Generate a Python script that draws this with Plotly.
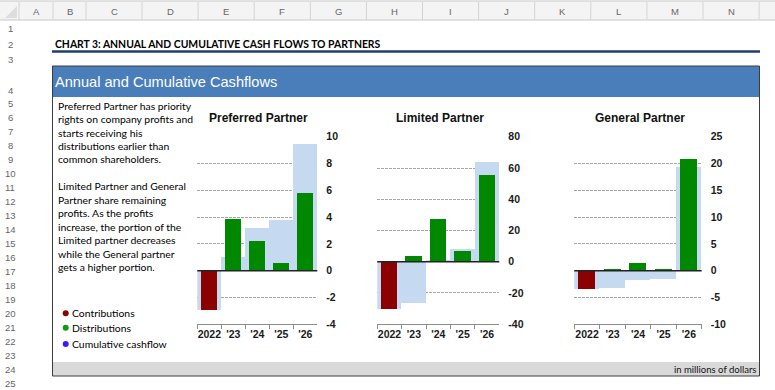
import plotly.graph_objects as go

W, H = 775, 390

# ---------------- data ----------------
years = ["2022", "'23", "'24", "'25", "'26"]

pref_contrib = [-2.9, None, None, None, None]
pref_distrib = [None, 3.9, 2.2, 0.6, 5.8]
pref_cumul = [-2.9, 1.0, 3.2, 3.8, 9.5]

lim_contrib = [-30.0, None, None, None, None]
lim_distrib = [None, 3.5, 27.8, 7.2, 55.6]
lim_cumul = [-30.0, -26.5, 1.3, 8.2, 63.8]

gen_contrib = [-3.4, None, None, None, None]
gen_distrib = [None, 0.2, 1.4, 0.3, 20.9]
gen_cumul = [-3.4, -3.2, -1.8, -1.5, 19.4]

chart_titles = ["Preferred Partner", "Limited Partner", "General Partner"]
pref_ticks = [-4, -2, 0, 2, 4, 6, 8, 10]
lim_ticks = [-40, -20, 0, 20, 40, 60, 80]
gen_ticks = [-10, -5, 0, 5, 10, 15, 20, 25]

legend_labels = ["Contributions", "Distributions", "Cumulative cashflow"]
legend_colors = ["#8b0000", "#119911", "#3a1cff"]

para1 = ["Preferred Partner has priority", "rights on company profits and",
         "starts receiving his", "distributions earlier than",
         "common shareholders."]
para2 = ["Limited Partner and General", "Partner share remaining",
         "profits. As the profits", "increase, the portion of the",
         "Limited partner decreases", "while the General partner",
         "gets a higher portion."]

col_letters = ["A", "B", "C", "D", "E", "F", "G", "H", "I", "J", "K", "L", "M", "N"]

# ---------------- helpers ----------------
def px(x):
    return x / W

def py(y):
    return 1 - y / H

RED = "#8b0000"
GREEN = "#008800"
LBLUE = "#c5d9f1"
CHART_FONT = "Liberation Sans"
TEXT_FONT = "Lato"

fig = go.Figure()

series = [
    (pref_contrib, pref_distrib, pref_cumul),
    (lim_contrib, lim_distrib, lim_cumul),
    (gen_contrib, gen_distrib, gen_cumul),
]
tick_sets = [pref_ticks, lim_ticks, gen_ticks]
x_domains = [(197.3, 317.3), (377.3, 499.3), (574.3, 701.7)]
y_dom = (py(324.2), py(136.8))

shapes = []
annotations = []

for i, (con, dis, cum) in enumerate(series):
    xa = "x" if i == 0 else f"x{i+1}"
    ya = "y" if i == 0 else f"y{i+1}"
    fig.add_trace(go.Bar(x=years, y=cum, width=1.0, marker=dict(color=LBLUE, line=dict(width=0)),
                         xaxis=xa, yaxis=ya, name="Cumulative cashflow", showlegend=False))
    fig.add_trace(go.Bar(x=years, y=con, width=0.67, marker=dict(color=RED, line=dict(width=0)),
                         xaxis=xa, yaxis=ya, name="Contributions", showlegend=False))
    fig.add_trace(go.Bar(x=years, y=dis, width=0.67, marker=dict(color=GREEN, line=dict(width=0)),
                         xaxis=xa, yaxis=ya, name="Distributions", showlegend=False))

    tv = tick_sets[i]
    xkey = "xaxis" if i == 0 else f"xaxis{i+1}"
    ykey = "yaxis" if i == 0 else f"yaxis{i+1}"
    fig.update_layout(**{
        xkey: dict(domain=[px(x_domains[i][0]), px(x_domains[i][1])], anchor=ya,
                   type="category", range=[-0.5, 4.5], showgrid=False, zeroline=False,
                   showline=True, linecolor="#8c8c8c", linewidth=1,
                   ticks="outside", tickson="boundaries", ticklen=4, tickcolor="#8c8c8c",
                   tickangle=0,
                   tickfont=dict(family=CHART_FONT, size=10.5, color="#1a1a1a", weight="bold"),
                   fixedrange=True),
        ykey: dict(domain=list(y_dom), anchor=xa, side="right", range=[tv[0], tv[-1]],
                   tickmode="array", tickvals=tv, ticktext=[str(v) for v in tv],
                   showgrid=True, gridcolor="#a6a6a6", griddash="3px,1px", gridwidth=1,
                   zeroline=False, showline=False, ticks="",
                   ticklabelstandoff=8,
                   tickfont=dict(family=CHART_FONT, size=10.5, color="#1a1a1a", weight="bold"),
                   fixedrange=True),
    })
    shapes.append(dict(type="line", xref=f"{xa} domain", yref=ya, x0=0, x1=1, y0=0, y1=0,
                       line=dict(color="#222222", width=1.5), layer="above"))
    cx = (x_domains[i][0] + x_domains[i][1]) / 2 + 1.5
    annotations.append(dict(text=chart_titles[i], x=px(cx), y=py(118), xref="paper", yref="paper",
                            xanchor="center", yanchor="middle", showarrow=False,
                            font=dict(family=CHART_FONT, size=12, color="#111111", weight="bold")))

# ---------------- spreadsheet frame ----------------
shapes.append(dict(type="rect", xref="paper", yref="paper", x0=0, x1=1, y0=py(20), y1=py(1),
                   fillcolor="#f4f4f4", line=dict(width=0), layer="below"))
shapes.append(dict(type="line", xref="paper", yref="paper", x0=0, x1=1, y0=py(1), y1=py(1),
                   line=dict(color="#c8c8c8", width=1), layer="below"))
shapes.append(dict(type="line", xref="paper", yref="paper", x0=0, x1=1, y0=py(20), y1=py(20),
                   line=dict(color="#c8c8c8", width=1), layer="below"))
shapes.append(dict(type="path", xref="paper", yref="paper",
                   path=f"M {px(17)} {py(6)} L {px(17)} {py(18)} L {px(5)} {py(18)} Z",
                   fillcolor="#dddddd", line=dict(width=0), layer="below"))
bounds = [19, 53, 86, 142] + [142 + 56.1 * k for k in range(1, 12)]
for b in bounds:
    shapes.append(dict(type="line", xref="paper", yref="paper", x0=px(b), x1=px(b), y0=py(20), y1=py(2),
                       line=dict(color="#d4d4d4", width=1), layer="below"))
for k, letter in enumerate(col_letters):
    cx = (bounds[k] + bounds[k + 1]) / 2
    annotations.append(dict(text=letter, x=px(cx), y=py(11), xref="paper", yref="paper",
                            xanchor="center", yanchor="middle", showarrow=False,
                            font=dict(family="Liberation Sans", size=9.5, color="#666666")))
row_y = [29, 44, 59, 90] + [104 + (r - 5) * 13.95 for r in range(5, 26)]
for r, yy in enumerate(row_y, start=1):
    annotations.append(dict(text=str(r), x=px(10), y=py(yy), xref="paper", yref="paper",
                            xanchor="center", yanchor="middle", showarrow=False,
                            font=dict(family="Liberation Sans", size=9.5, color="#666666")))

annotations.append(dict(text="<b>CHART 3: ANNUAL AND CUMULATIVE CASH FLOWS TO PARTNERS</b>",
                        x=px(53), y=py(43.5), xref="paper", yref="paper", xanchor="left",
                        yanchor="middle", showarrow=False,
                        font=dict(family=TEXT_FONT, size=10.4, color="#000000")))
shapes.append(dict(type="line", xref="paper", yref="paper", x0=px(52), x1=px(760), y0=py(51.5), y1=py(51.5),
                   line=dict(color="#1f3d6e", width=2.5), layer="below"))

shapes.append(dict(type="rect", xref="paper", yref="paper", x0=px(52.5), x1=px(759.5), y0=py(97), y1=py(66),
                   fillcolor="#4a7ebb", line=dict(width=0), layer="below"))
shapes.append(dict(type="rect", xref="paper", yref="paper", x0=px(52.5), x1=px(759.5), y0=py(376), y1=py(362),
                   fillcolor="#d9d9d9", line=dict(width=0), layer="below"))
shapes.append(dict(type="rect", xref="paper", yref="paper", x0=px(52.5), x1=px(759.5), y0=py(376), y1=py(66),
                   fillcolor="rgba(0,0,0,0)", line=dict(color="#3c3c3c", width=1), layer="above"))
annotations.append(dict(text="Annual and Cumulative Cashflows", x=px(53), y=py(82), xref="paper",
                        yref="paper", xanchor="left", yanchor="middle", showarrow=False,
                        font=dict(family="Liberation Sans", size=14.6, color="#ffffff")))
annotations.append(dict(text="in millions of dollars", x=px(758), y=py(369.5), xref="paper",
                        yref="paper", xanchor="right", yanchor="middle", showarrow=False,
                        font=dict(family=TEXT_FONT, size=9.5, color="#111111")))

for k, line in enumerate(para1):
    annotations.append(dict(text=line, x=px(56), y=py(105.7 + k * 13.4), xref="paper", yref="paper",
                            xanchor="left", yanchor="middle", showarrow=False,
                            font=dict(family=TEXT_FONT, size=10.4, color="#000000")))
for k, line in enumerate(para2):
    annotations.append(dict(text=line, x=px(56), y=py(186.3 + k * 13.45), xref="paper", yref="paper",
                            xanchor="left", yanchor="middle", showarrow=False,
                            font=dict(family=TEXT_FONT, size=10.4, color="#000000")))

leg_y = [313.3, 327.7, 344]
for k, (lab, col) in enumerate(zip(legend_labels, legend_colors)):
    yy = leg_y[k]
    shapes.append(dict(type="circle", xref="paper", yref="paper", x0=px(62.7), x1=px(68.7),
                       y0=py(yy + 3), y1=py(yy - 3), fillcolor=col, line=dict(width=0), layer="above"))
    annotations.append(dict(text=lab, x=px(70), y=py(yy), xref="paper", yref="paper",
                            xanchor="left", yanchor="middle", showarrow=False,
                            font=dict(family=TEXT_FONT, size=10.4, color="#000000")))

fig.update_layout(
    width=W, height=H, margin=dict(l=0, r=0, t=0, b=0, autoexpand=False),
    paper_bgcolor="#ffffff", plot_bgcolor="rgba(0,0,0,0)",
    barmode="overlay", bargap=0, showlegend=False,
    shapes=shapes, annotations=annotations,
)

fig.write_html("out.html", config={"displayModeBar": False},
               post_script="document.body.style.margin='0';document.body.style.overflow='hidden';")
